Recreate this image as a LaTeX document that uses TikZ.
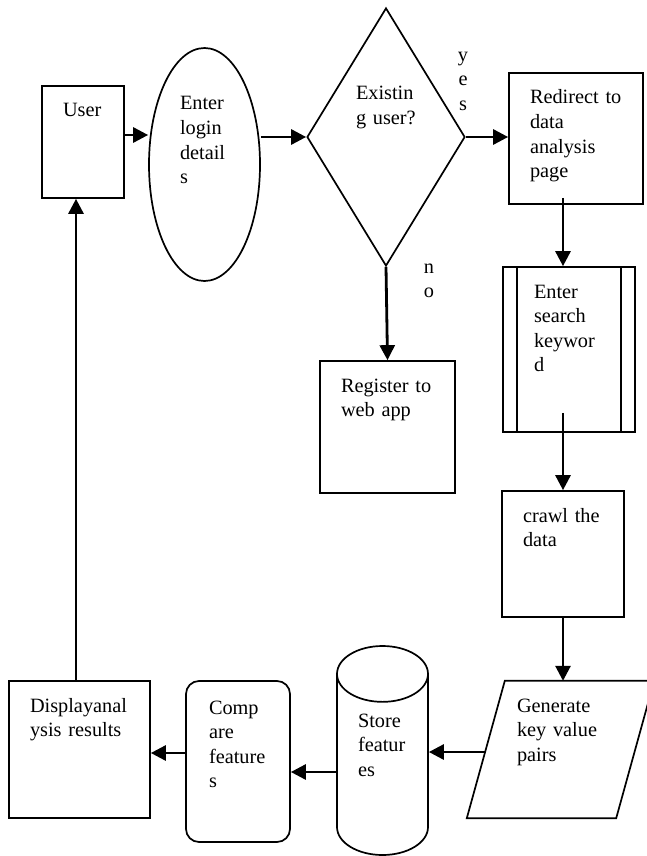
\documentclass[tikz,border=0pt]{standalone}
\usepackage{fontspec}
\setmainfont{Liberation Serif}
\usepackage{tikz}
\usetikzlibrary{positioning, shapes.geometric, calc, arrows.meta}

\begin{document}
\begin{tikzpicture}[x=1pt, y=-1pt]
% style: flowFont
\tikzstyle{flowFont}=[font=\fontsize{20.3pt}{24.6pt}\selectfont]
% style: Box_style
\tikzstyle{Box_style}=[flowFont,draw,rectangle,line width=1.7pt,inner xsep=21pt,inner ysep=0pt,text height=31pt,align=left]
% style: Predef_style
\tikzstyle{Predef_style}=[Box_style,inner xsep=31pt]
% style: Rounded_style
\tikzstyle{Rounded_style}=[Box_style,rounded corners=13pt,inner xsep=23pt,text height=33pt]
% style: Io_style
\tikzstyle{Io_style}=[flowFont,rectangle,inner xsep=31pt,inner ysep=0pt,text height=31pt,align=left]
% style: Ellipse_style
\tikzstyle{Ellipse_style}=[flowFont,draw,ellipse,line width=1.7pt,inner sep=0pt,align=left]
% style: Decision_style
\tikzstyle{Decision_style}=[flowFont,draw,diamond,aspect=0.6,line width=1.7pt,inner sep=0pt,align=left]
% style: Store_style
\tikzstyle{Store_style}=[flowFont,draw,cylinder,shape border rotate=90,aspect=1.14,line width=1.7pt,inner sep=0pt,align=left]
% style: Branch_style
\tikzstyle{Branch_style}=[flowFont,inner sep=0pt,align=center,text width=12pt,text height=10pt,anchor=north]
% style: shapeLine
\tikzstyle{shapeLine}=[line width=1.7pt]
% style: flowEdge
\tikzstyle{flowEdge}=[line width=2.8pt,-{Triangle[length=15pt,width=15pt]}]

\useasboundingbox (0,0) rectangle (647,856);

% node: user
\node[Box_style, minimum width=82pt, minimum height=112pt, text width=40pt, text depth=81pt] (user) at (83,142)
    {User};
% node: login
\node[Ellipse_style, minimum width=111pt, minimum height=233pt, text width=49pt, text height=20pt, text depth=129pt] (login) at (204.5,164.5)
    {Enter\\login\\detail\\s};
% node: exist
\node[Decision_style, minimum width=158pt, minimum height=258pt, text width=60pt, text height=10pt, text depth=84pt] (exist) at (386,137)
    {Existin\\g~user?};
% node: yes_label
\node[Branch_style] (yes_label) at (463,51) {y\\e\\s};
% node: no_label
\node[Branch_style] (no_label) at (429,263) {n\\o};
% node: register
\node[Box_style, minimum width=135pt, minimum height=132pt, text width=93pt, text depth=101pt] (register) at (387.5,427)
    {Register~to\\web~app};
% node: redirect
\node[Box_style, minimum width=134pt, minimum height=131pt, text width=92pt, text depth=100pt] (redirect) at (576,138.5)
    {Redirect~to\\data\\analysis\\page};
% node: search
\node[Predef_style, minimum width=132pt, minimum height=165pt, text width=70pt, text depth=134pt] (search) at (569,349.5)
    {Enter\\search\\keywor\\d};
\draw[shapeLine] ($(search.north west)+(15,0)$) -- ($(search.south west)+(15,0)$);
\draw[shapeLine] ($(search.north east)+(-15,0)$) -- ($(search.south east)+(-15,0)$);
% node: crawl
\node[Box_style, minimum width=122pt, minimum height=126pt, text width=80pt, text depth=95pt] (crawl) at (563,554)
    {crawl~the\\data};
% node: generate
\node[Io_style, minimum width=149pt, minimum height=137pt, text width=87pt, text depth=106pt] (generate) at (560.5,749.5)
    {Generate\\key~value\\pairs};
\draw[shapeLine] ($(generate.north west)+(19,0)$) -- ($(generate.north east)+(19,0)$)
    -- ($(generate.south east)+(-19,0)$) -- ($(generate.south west)+(-19,0)$) -- cycle;
% node: store
\node[Store_style, anchor=shape center, minimum width=91pt, minimum height=209pt, text width=49pt, text height=20pt, text depth=95pt] (store) at (382.5,750.5)
    {Store\\featur\\es};
% node: compare
\node[Rounded_style, minimum width=104pt, minimum height=161pt, text width=58pt, text depth=128pt] (compare) at (238,761.5)
    {Comp\\are\\feature\\s};
% node: display
\node[Box_style, minimum width=141pt, minimum height=137pt, text width=99pt, text depth=106pt] (display) at (79.5,749.5)
    {Displayanal\\ysis~results};

% edge from user to login
\draw[flowEdge] ($(user.east)+(0,-7)$) -- ($(user.east -| login.west)+(0,-7)$);

% edge from login to exist
\draw[flowEdge] (login.east |- exist.west) -- (exist.west);

% edge from exist to redirect
\draw[flowEdge] (exist.east) -- (redirect.west |- exist.east);

% edge from exist to register
\draw[flowEdge] (exist.south) -- (register.north);

% edge from redirect to search
\draw[flowEdge] ($(redirect.south -| crawl.north)+(0,-7)$) -- (search.north -| crawl.north);

% edge from search to crawl
\draw[flowEdge] ($(search.south -| crawl.north)+(0,-20)$) -- (crawl.north);

% edge from crawl to generate
\draw[flowEdge] (crawl.south) -- (crawl.south |- generate.north);

% edge from generate to store
\draw[flowEdge] ($(generate.west)+(0,2.5)$) -- ($(generate.west -| store.east)+(0,2.5)$);

% edge from store to compare
\draw[flowEdge] (store.west |- 0,772) -- (compare.east |- 0,772);

% edge from compare to display
\draw[flowEdge] ($(compare.west)+(0,-8.5)$) -- ($(compare.west -| display.east)+(0,-8.5)$);

% edge from display to user
\draw[flowEdge] ($(display.north)+(-3.5,0)$) -- ($(display.north |- user.south)+(-3.5,0)$);

\end{tikzpicture}
\end{document}
